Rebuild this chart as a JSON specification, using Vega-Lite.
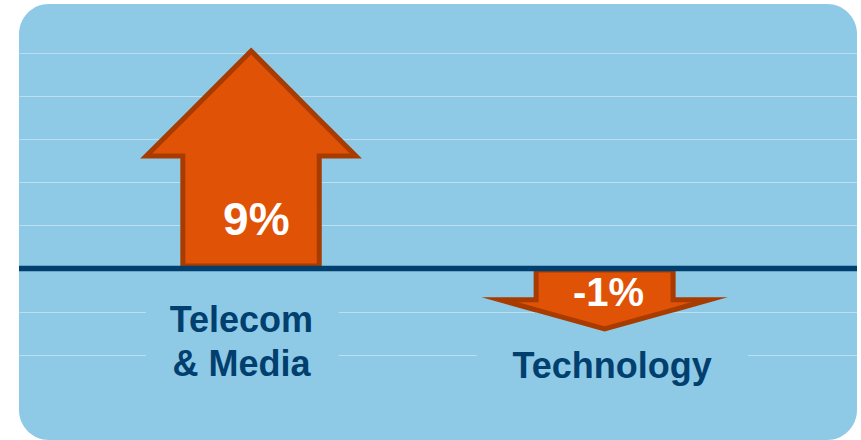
{
  "$schema": "https://vega.github.io/schema/vega-lite/v6.json",
  "width": 861,
  "height": 440,
  "autosize": {"type": "fit", "contains": "padding"},
  "padding": {"left": 16, "top": 4, "right": 1, "bottom": 0},
  "background": "#ffffff",
  "config": {
    "view": {"fill": "#8ECAE6", "stroke": null, "cornerRadius": 30},
    "font": "Liberation Sans"
  },
  "datasets": {
    "arrows": [
      {"sector": "Telecom & Media", "x": 15.18, "top": 2.614, "bottom": 2.614},
      {"sector": "Telecom & Media", "x": 19.55, "top": 3.464, "bottom": 2.614},
      {"sector": "Telecom & Media", "x": 19.551, "top": 3.464, "bottom": 0.058},
      {"sector": "Telecom & Media", "x": 27.70, "top": 5.053, "bottom": 0.058},
      {"sector": "Telecom & Media", "x": 35.829, "top": 3.464, "bottom": 0.058},
      {"sector": "Telecom & Media", "x": 35.83, "top": 3.464, "bottom": 2.614},
      {"sector": "Telecom & Media", "x": 40.20, "top": 2.614, "bottom": 2.614},
      {"sector": "Technology", "x": 57.37, "top": -0.727, "bottom": -0.727},
      {"sector": "Technology", "x": 61.71, "top": -0.727, "bottom": -0.962},
      {"sector": "Technology", "x": 61.711, "top": -0.035, "bottom": -0.962},
      {"sector": "Technology", "x": 69.88, "top": -0.035, "bottom": -1.403},
      {"sector": "Technology", "x": 78.059, "top": -0.035, "bottom": -0.962},
      {"sector": "Technology", "x": 78.06, "top": -0.727, "bottom": -0.962},
      {"sector": "Technology", "x": 82.39, "top": -0.727, "bottom": -0.727}
    ],
    "sectors": [
      {"sector": "Telecom\n\u00a0& Media", "label": "9%", "value": 9, "vx": 28.32, "vy": 0.778, "nx": 26.54, "ny": -1.475, "mx": 15.17, "mx2": 38.15, "my": -0.5, "my2": -2.82},
      {"sector": "Technology", "label": "-1%", "value": -1, "vx": 70.34, "vy": -0.871, "nx": 70.77, "ny": -2.551, "mx": 54.62, "mx2": 86.97, "my": -1.547, "my2": -2.939}
    ],
    "baseline": [{"y": 0}]
  },
  "layer": [
    {
      "data": {"name": "sectors"},
      "mark": {"type": "rect", "fill": "#8ECAE6"},
      "encoding": {
        "x": {"field": "mx", "type": "quantitative", "scale": {"domain": [0, 100], "nice": false, "zero": false}, "axis": null},
        "x2": {"field": "mx2"},
        "y": {"field": "my", "type": "quantitative", "scale": {"domain": [-3.985, 6.145], "nice": false, "zero": false},
          "axis": {"values": [-2, -1, 1, 2, 3, 4, 5], "labels": false, "ticks": false, "domain": false, "title": null, "grid": true, "gridColor": "#ffffff", "gridOpacity": 0.4, "gridWidth": 1, "minExtent": 0, "maxExtent": 0, "labelPadding": 0, "offset": 0}},
        "y2": {"field": "my2"}
      }
    },
    {
      "data": {"name": "arrows"},
      "mark": {"type": "area", "fill": "#E05206", "fillOpacity": 1, "stroke": "#A83B00", "strokeWidth": 5, "strokeJoin": "miter", "strokeMiterLimit": 12},
      "encoding": {
        "x": {"field": "x", "type": "quantitative"},
        "y": {"field": "top", "type": "quantitative"},
        "y2": {"field": "bottom"},
        "detail": {"field": "sector"}
      }
    },
    {
      "data": {"name": "baseline"},
      "mark": {"type": "rule", "color": "#003F6E", "strokeWidth": 5.5},
      "encoding": {
        "y": {"field": "y", "type": "quantitative"}
      }
    },
    {
      "data": {"name": "sectors"},
      "mark": {"type": "text", "color": "#ffffff", "fontWeight": "bold", "align": "center", "baseline": "alphabetic"},
      "encoding": {
        "x": {"field": "vx", "type": "quantitative"},
        "y": {"field": "vy", "type": "quantitative"},
        "text": {"field": "label"},
        "size": {"condition": {"test": "datum.value < 0", "value": 40}, "value": 46}
      }
    },
    {
      "data": {"name": "sectors"},
      "mark": {"type": "text", "color": "#003F6E", "fontWeight": "bold", "fontSize": 36, "align": "center", "baseline": "alphabetic", "lineBreak": "\n", "lineHeight": 44.5},
      "encoding": {
        "x": {"field": "nx", "type": "quantitative"},
        "y": {"field": "ny", "type": "quantitative"},
        "text": {"field": "sector"}
      }
    }
  ]
}
